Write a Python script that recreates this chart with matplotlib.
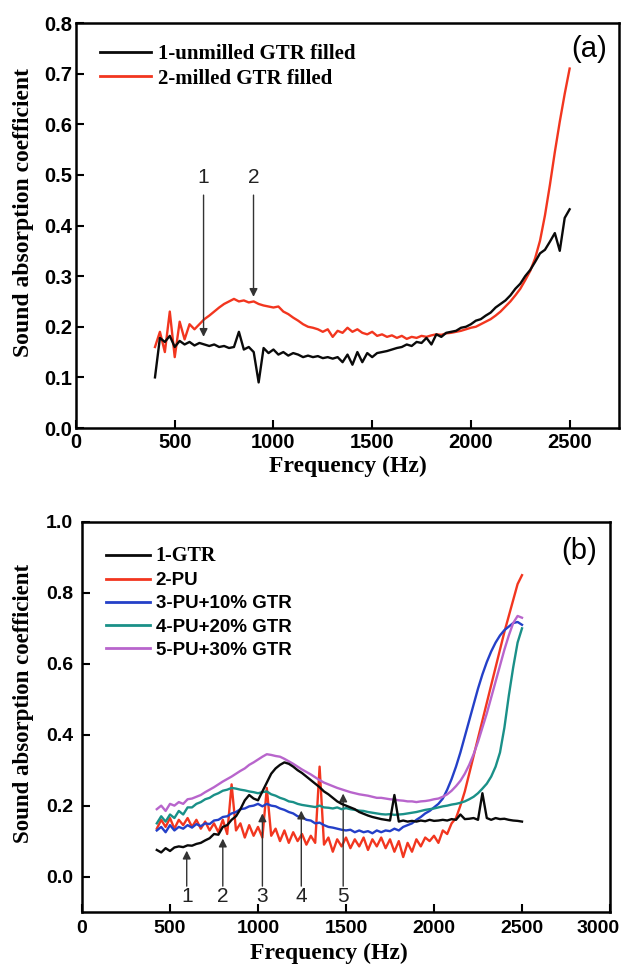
import matplotlib
matplotlib.use("Agg")
import matplotlib.pyplot as plt
import matplotlib.transforms as mtransforms
from matplotlib.font_manager import FontProperties

# ---------------- data: panel (a) ----------------
freq_a = list(range(400, 2501, 25))
unmilled = [0.100, 0.178, 0.170, 0.182, 0.160, 0.172, 0.165, 0.170, 0.163, 0.168,
            0.165, 0.162, 0.165, 0.160, 0.162, 0.158, 0.160, 0.190, 0.155, 0.160,
            0.150, 0.090, 0.158, 0.148, 0.155, 0.145, 0.150, 0.143, 0.148, 0.145,
            0.140, 0.143, 0.140, 0.142, 0.138, 0.140, 0.137, 0.140, 0.130, 0.145,
            0.125, 0.150, 0.130, 0.148, 0.140, 0.148, 0.150, 0.152, 0.155, 0.158,
            0.160, 0.165, 0.162, 0.170, 0.168, 0.178, 0.165, 0.185, 0.180, 0.188,
            0.190, 0.192, 0.198, 0.200, 0.205, 0.212, 0.215, 0.222, 0.228, 0.238,
            0.245, 0.252, 0.262, 0.275, 0.285, 0.300, 0.312, 0.328, 0.345, 0.352,
            0.368, 0.385, 0.350, 0.415, 0.432]
milled = [0.160, 0.190, 0.150, 0.230, 0.140, 0.210, 0.175, 0.205, 0.195, 0.205,
          0.215, 0.222, 0.230, 0.238, 0.245, 0.250, 0.255, 0.250, 0.252, 0.248,
          0.250, 0.245, 0.242, 0.240, 0.238, 0.240, 0.230, 0.225, 0.218, 0.212,
          0.205, 0.200, 0.198, 0.195, 0.190, 0.195, 0.180, 0.192, 0.188, 0.198,
          0.190, 0.195, 0.188, 0.185, 0.190, 0.182, 0.185, 0.180, 0.183, 0.178,
          0.182, 0.176, 0.180, 0.178, 0.182, 0.180, 0.183, 0.185, 0.184, 0.187,
          0.188, 0.190, 0.192, 0.195, 0.198, 0.200, 0.205, 0.210, 0.215, 0.222,
          0.230, 0.240, 0.250, 0.262, 0.275, 0.292, 0.310, 0.335, 0.370, 0.420,
          0.480, 0.545, 0.605, 0.660, 0.710]
labels_a = ["1-unmilled GTR filled", "2-milled GTR filled"]

# ---------------- data: panel (b) ----------------
freq_b = list(range(425, 2501, 25))
gtr = [0.075, 0.068, 0.080, 0.072, 0.082, 0.085, 0.083, 0.088, 0.087, 0.092,
       0.095, 0.102, 0.108, 0.120, 0.118, 0.140, 0.145, 0.160, 0.170, 0.190,
       0.215, 0.230, 0.220, 0.215, 0.240, 0.265, 0.290, 0.305, 0.315, 0.322,
       0.318, 0.310, 0.300, 0.292, 0.282, 0.272, 0.262, 0.252, 0.240, 0.232,
       0.222, 0.212, 0.205, 0.200, 0.195, 0.190, 0.182, 0.177, 0.172, 0.168,
       0.165, 0.162, 0.160, 0.158, 0.230, 0.155, 0.158, 0.155, 0.157, 0.155,
       0.158, 0.156, 0.160, 0.157, 0.158, 0.160, 0.158, 0.162, 0.160, 0.175,
       0.162, 0.163, 0.165, 0.160, 0.235, 0.165, 0.160, 0.165, 0.162, 0.163,
       0.160, 0.158, 0.157, 0.155]
pu = [0.135, 0.160, 0.140, 0.165, 0.135, 0.160, 0.145, 0.165, 0.140, 0.160,
      0.135, 0.155, 0.130, 0.150, 0.125, 0.160, 0.120, 0.260, 0.130, 0.150,
      0.110, 0.145, 0.115, 0.140, 0.110, 0.250, 0.115, 0.135, 0.100, 0.130,
      0.095, 0.125, 0.100, 0.120, 0.090, 0.115, 0.095, 0.310, 0.090, 0.110,
      0.070, 0.105, 0.085, 0.110, 0.080, 0.105, 0.085, 0.110, 0.075, 0.105,
      0.085, 0.110, 0.080, 0.105, 0.070, 0.100, 0.055, 0.095, 0.070, 0.105,
      0.085, 0.110, 0.100, 0.115, 0.095, 0.130, 0.120, 0.150, 0.165, 0.200,
      0.240, 0.290, 0.340, 0.390, 0.440, 0.490, 0.540, 0.590, 0.640, 0.690,
      0.735, 0.780, 0.825, 0.850]
pu10 = [0.130, 0.140, 0.125, 0.145, 0.130, 0.140, 0.135, 0.145, 0.138, 0.148,
        0.142, 0.150, 0.148, 0.158, 0.160, 0.168, 0.170, 0.178, 0.182, 0.190,
        0.192, 0.198, 0.200, 0.205, 0.198, 0.205, 0.200, 0.198, 0.192, 0.188,
        0.182, 0.178, 0.170, 0.168, 0.160, 0.158, 0.150, 0.152, 0.145, 0.140,
        0.138, 0.135, 0.132, 0.130, 0.132, 0.125, 0.130, 0.125, 0.128, 0.122,
        0.130, 0.125, 0.130, 0.128, 0.135, 0.130, 0.140, 0.145, 0.150, 0.160,
        0.168, 0.178, 0.185, 0.195, 0.205, 0.220, 0.245, 0.275, 0.310, 0.350,
        0.395, 0.440, 0.485, 0.530, 0.570, 0.605, 0.635, 0.660, 0.680, 0.695,
        0.705, 0.715, 0.718, 0.710]
pu20 = [0.150, 0.170, 0.155, 0.175, 0.165, 0.185, 0.175, 0.195, 0.195, 0.205,
        0.210, 0.218, 0.222, 0.230, 0.235, 0.242, 0.245, 0.250, 0.248, 0.245,
        0.243, 0.240, 0.238, 0.235, 0.238, 0.240, 0.232, 0.228, 0.222, 0.218,
        0.212, 0.210, 0.205, 0.202, 0.200, 0.198, 0.196, 0.200, 0.195, 0.194,
        0.192, 0.195, 0.190, 0.193, 0.190, 0.188, 0.186, 0.185, 0.182, 0.180,
        0.178, 0.176, 0.175, 0.176, 0.174, 0.175, 0.176, 0.178, 0.180, 0.182,
        0.185, 0.188, 0.190, 0.192, 0.195, 0.198, 0.200, 0.203, 0.205, 0.208,
        0.212, 0.218, 0.225, 0.235, 0.248, 0.262, 0.282, 0.310, 0.350, 0.420,
        0.510, 0.590, 0.660, 0.700]
pu30 = [0.190, 0.200, 0.185, 0.205, 0.200, 0.210, 0.205, 0.218, 0.220, 0.225,
        0.230, 0.238, 0.245, 0.252, 0.260, 0.268, 0.275, 0.282, 0.290, 0.298,
        0.305, 0.315, 0.322, 0.330, 0.338, 0.345, 0.343, 0.340, 0.338, 0.332,
        0.325, 0.318, 0.310, 0.302, 0.295, 0.288, 0.280, 0.272, 0.265, 0.260,
        0.255, 0.250, 0.246, 0.242, 0.238, 0.235, 0.232, 0.230, 0.228, 0.225,
        0.222, 0.222, 0.220, 0.218, 0.217, 0.215, 0.214, 0.212, 0.212, 0.210,
        0.212, 0.213, 0.215, 0.218, 0.220, 0.225, 0.232, 0.242, 0.255, 0.270,
        0.290, 0.315, 0.345, 0.380, 0.420, 0.460, 0.505, 0.550, 0.595, 0.640,
        0.680, 0.715, 0.735, 0.730]
labels_b = ["1-GTR", "2-PU", "3-PU+10% GTR", "4-PU+20% GTR", "5-PU+30% GTR"]

# arrows: (label, frequency, tip value)
arrows_a = [("1", 646, 0.18), ("2", 899, 0.259)]
arrows_b = [("1", 595, 0.073), ("2", 800, 0.107), ("3", 1025, 0.178),
            ("4", 1246, 0.186), ("5", 1484, 0.234)]

# ---------------- styling ----------------
C_BLACK = "#0a0a0a"
C_RED = "#f2361f"
C_BLUE = "#2440c8"
C_TEAL = "#1a9088"
C_PURPLE = "#b865cc"

serif_b = FontProperties(family="Liberation Serif", weight="bold")
sans_b = FontProperties(family="Liberation Sans", weight="bold")

fig = plt.figure(figsize=(6.21, 9.69), dpi=100)
W, H = 621, 969


def px_axes(l, t, r, b):
    return fig.add_axes([l / W, 1 - b / H, (r - l) / W, (b - t) / H])


def style_axes(ax, tick_fs, xpad, ypad):
    for s in ax.spines.values():
        s.set_linewidth(1.8)
    ax.tick_params(direction="in", length=6, width=1.5, labelsize=tick_fs,
                   top=False, right=False)
    ax.tick_params(axis="x", pad=xpad)
    ax.tick_params(axis="y", pad=ypad)
    for lab in ax.get_xticklabels() + ax.get_yticklabels():
        lab.set_fontproperties(sans_b)
        lab.set_fontsize(tick_fs)


# ---------- panel (a) ----------
ax1 = px_axes(76, 23, 619, 428)
ax1.plot(freq_a, unmilled, color=C_BLACK, lw=1.7, label=labels_a[0], zorder=3)
ax1.plot(freq_a, milled, color=C_RED, lw=1.7, label=labels_a[1], zorder=2)
ax1.set_xlim(0, 2750)
ax1.set_ylim(0, 0.8)
ax1.set_xticks([0, 500, 1000, 1500, 2000, 2500])
ax1.set_yticks([0.0, 0.1, 0.2, 0.3, 0.4, 0.5, 0.6, 0.7, 0.8])
ax1.set_yticklabels([f"{v:.1f}" for v in ax1.get_yticks()])
style_axes(ax1, 14.5, 3.5, 3)
ax1.set_xlabel("Frequency (Hz)", fontproperties=serif_b, fontsize=17)
ax1.set_ylabel("Sound absorption coefficient", fontproperties=serif_b, fontsize=17)
ax1.xaxis.set_label_coords(0.5, -0.068)
ax1.yaxis.set_label_coords(-0.078, 0.533)
leg1 = ax1.legend(loc="upper left", bbox_to_anchor=(0.044, 0.947), frameon=False,
                  prop=FontProperties(family="Liberation Serif", weight="bold", size=15),
                  handlelength=2.45, handletextpad=0.33, labelspacing=0.2,
                  borderpad=0, borderaxespad=0)
for h in leg1.get_lines():
    h.set_linewidth(2.0)
ax1.text(0.978, 0.935, "(a)", transform=ax1.transAxes, ha="right", va="center",
         fontsize=21, family="Liberation Sans")
for lab, f, tip in arrows_a:
    ax1.annotate("", xy=(f, tip), xytext=(f, 0.46),
                 arrowprops=dict(arrowstyle="-|>", color="#333333", lw=1.0,
                                 mutation_scale=12, shrinkA=0, shrinkB=0))
    ax1.text(f, 0.495, lab, ha="center", va="center", fontsize=15,
             family="Liberation Sans", color="#222222")

# ---------- panel (b) ----------
ax2 = px_axes(82, 522, 610, 912)
series_b = [gtr, pu, pu10, pu20, pu30]
colors_b = [C_BLACK, C_RED, C_BLUE, C_TEAL, C_PURPLE]
zs = [6, 2, 3, 4, 5]
for vals, c, lab, z in zip(series_b, colors_b, labels_b, zs):
    ax2.plot(freq_b, vals, color=c, lw=1.7, label=lab, zorder=z)
ax2.set_xlim(0, 3000)
ax2.set_ylim(-0.1, 1.0)
ax2.set_xticks([0, 500, 1000, 1500, 2000, 2500, 3000])
ax2.set_yticks([0.0, 0.2, 0.4, 0.6, 0.8, 1.0])
ax2.set_yticklabels([f"{v:.1f}" for v in ax2.get_yticks()])
style_axes(ax2, 14, 5.5, 6.5)
# keep the last x tick label ("3000") inside the figure
last = ax2.get_xticklabels()[-1]
last.set_transform(last.get_transform() +
                   mtransforms.ScaledTranslation(-12 / 100, 0, fig.dpi_scale_trans))
ax2.set_xlabel("Frequency (Hz)", fontproperties=serif_b, fontsize=17)
ax2.set_ylabel("Sound absorption coefficient", fontproperties=serif_b, fontsize=16.5)
ax2.xaxis.set_label_coords(0.468, -0.078)
ax2.yaxis.set_label_coords(-0.091, 0.536)
leg2 = ax2.legend(loc="upper left", bbox_to_anchor=(0.045, 0.938), frameon=False,
                  prop=FontProperties(family="Liberation Sans", weight="bold", size=13.5),
                  handlelength=2.35, handletextpad=0.32, labelspacing=0.32,
                  borderpad=0, borderaxespad=0)
leg2.get_texts()[0].set_fontproperties(
    FontProperties(family="Liberation Serif", weight="bold", size=14.5))
for h in leg2.get_lines():
    h.set_linewidth(2.0)
ax2.text(0.975, 0.925, "(b)", transform=ax2.transAxes, ha="right", va="center",
         fontsize=21, family="Liberation Sans")
for lab, f, tip in arrows_b:
    ax2.annotate("", xy=(f, tip), xytext=(f, -0.027),
                 arrowprops=dict(arrowstyle="-|>", color="#333333", lw=1.0,
                                 mutation_scale=12, shrinkA=0, shrinkB=0))
    ax2.text(f, -0.056, lab, ha="center", va="center", fontsize=15,
             family="Liberation Sans", color="#222222")

fig.savefig("out.png", dpi=100)
